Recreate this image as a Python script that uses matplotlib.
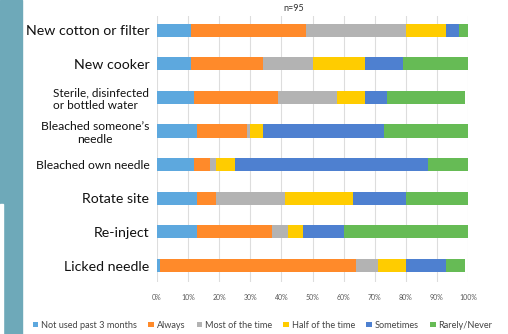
import numpy as np
import matplotlib
matplotlib.use("Agg")
import matplotlib.pyplot as plt
from matplotlib.patches import Rectangle

plt.rcParams['font.family'] = ['Lato', 'DejaVu Sans']

# practices, top to bottom
practices = ["New cotton or filter", "New cooker",
             "Sterile, disinfected\nor bottled water",
             "Bleached someone\u2019s\nneedle", "Bleached own needle",
             "Rotate site", "Re-inject", "Licked needle"]
label_sizes = [10.2, 10.2, 8.5, 8.7, 8.7, 10.2, 10.2, 10.2]
label_align = ["center", "center", "left", "center", "center", "center", "center", "center"]

answers = ["Not used past 3 months", "Always", "Most of the time",
           "Half of the time", "Sometimes", "Rarely/Never"]
colors = ["#5DA8DE", "#FF8A2A", "#B3B3B3", "#FFCC00", "#4E80D0", "#66BB55"]

# percent of respondents per answer, one list per answer (rows follow practices)
not_used  = [11, 11, 12, 13, 12, 13, 13, 1]
always    = [37, 23, 27, 16, 5, 6, 24, 63]
most      = [32, 16, 19, 1, 2, 22, 5, 7]
half      = [13, 17, 9, 4, 6, 22, 5, 9]
sometimes = [4, 12, 7, 39, 62, 17, 13, 13]
rarely    = [3, 21, 25, 27, 13, 20, 40, 6]
series = [not_used, always, most, half, sometimes, rarely]

fig = plt.figure(figsize=(5.08, 3.34), dpi=100)

# teal strip down the left edge
fig.patches.append(Rectangle((0, 0), 22 / 508, 1, transform=fig.transFigure,
                             color="#6EA9B9", zorder=0))
fig.patches.append(Rectangle((0, 0), 3 / 508, 1 - 204 / 334,
                             transform=fig.transFigure, color="white", zorder=1))

ax = fig.add_axes([157 / 508, 1 - 282 / 334, 311 / 508, 266 / 334])

y = np.arange(len(practices))
left = np.zeros(len(practices))
for name, vals, c in zip(answers, series, colors):
    vals = np.array(vals, dtype=float)
    ax.barh(y, vals, left=left, height=0.39, color=c, label=name, zorder=2)
    left += vals

ax.set_xlim(0, 100)
ax.set_ylim(7.49, -0.42)
ax.set_xticks(np.arange(0, 101, 10))
ax.set_xticklabels([f"{v}%" for v in range(0, 101, 10)], fontsize=5, color="#595959")
ax.grid(axis="x", color="#DDDDDD", linewidth=0.8, zorder=0)
ax.tick_params(axis="x", length=0, pad=9)
ax.tick_params(axis="y", length=0, pad=5.5)
ax.set_yticks(y)
ax.set_yticklabels(practices)
for lab, fs, al in zip(ax.get_yticklabels(), label_sizes, label_align):
    lab.set_fontsize(fs)
    lab.set_multialignment(al)
    lab.set_color("#111111")
for s in ax.spines.values():
    s.set_visible(False)

ax.text(44, -0.5, "n=95", fontsize=6.5, ha="center", va="bottom", color="#333333")

fig.legend(loc="lower center", bbox_to_anchor=(0.517, -0.012), ncol=6,
           frameon=False, fontsize=6.6, handlelength=0.6, handleheight=0.6,
           handletextpad=0.3, columnspacing=1.25, labelcolor="#444444")

fig.savefig("out.png", dpi=100)
